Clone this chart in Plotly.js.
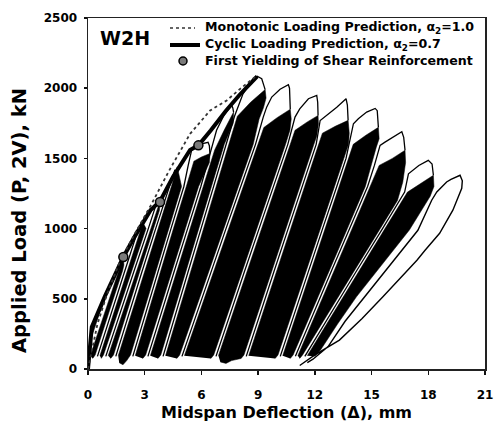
<!DOCTYPE html>
<html><head><meta charset="utf-8">
<script src="https://cdn.plot.ly/plotly-3.0.1.min.js"></script>
<style>html,body{margin:0;padding:0;background:#fff;}#chart{width:497px;height:424px;}</style>
</head><body><div id="chart"></div>
<script>
// ---- axis ticks ----
const xTicks = [0, 3, 6, 9, 12, 15, 18, 21];
const yTicks = [0, 500, 1000, 1500, 2000, 2500];

// ---- prediction curves ----
const monoX = [0, 0.5, 1.0, 1.7, 2.5, 3.3, 4.3, 5.4, 6.46, 7.34, 8.0, 8.5, 8.93];
const monoY = [0, 320, 530, 770, 970, 1160, 1415, 1675, 1841, 1913, 1990, 2045, 2090];
const cycX = [0, 0.2, 0.9, 1.6, 1.87, 2.5, 3.3, 3.81, 4.5, 5.4, 5.84, 6.5, 7.3, 8.0, 8.6, 8.95];
const cycY = [0, 300, 520, 730, 798, 950, 1130, 1195, 1370, 1560, 1593, 1700, 1840, 1950, 2040, 2085];

// ---- first yielding of shear reinforcement ----
const yieldX = [1.87, 3.81, 5.84];
const yieldY = [798, 1190, 1593];

// ---- dense repeated-cycle bands, one per loading stage ----
const bandX = [
  [0, 0.2, 0.6, 0.9, 0.85, 0.62, 0.12, 0.0],
  [0.12, 0.87, 1.62, 1.87, 1.9, 1.83, 1.10, 0.38, 0.25],
  [0.63, 1.35, 2.08, 2.75, 2.9, 3.0, 3.07, 2.32, 1.57, 0.82, 0.7],
  [1.07, 1.82, 2.57, 3.32, 3.7, 3.81, 3.78, 3.46, 2.75, 2.05, 1.35, 1.2],
  [1.6, 2.30, 3.0, 3.71, 4.41, 4.72, 4.95, 4.27, 3.60, 2.92, 2.25, 2.05, 1.85, 1.65],
  [2.5, 3.17, 3.85, 4.52, 5.2, 5.6, 6.0, 6.45, 6.42, 5.85, 5.15, 4.45, 3.75, 3.05, 2.9],
  [3.3, 4.0, 4.7, 5.4, 6.1, 6.7, 7.2, 7.7, 7.68, 7.21, 6.53, 5.86, 5.19, 4.52, 3.85, 3.7],
  [4.1, 4.77, 5.44, 6.11, 6.78, 7.45, 7.9, 8.6, 9.37, 9.42, 9.28, 9.05, 8.74, 7.96, 7.18, 6.41, 5.63, 4.85, 4.7],
  [5.1, 5.88, 6.66, 7.43, 8.21, 8.99, 9.3, 10.0, 10.7, 10.75, 10.68, 10.45, 9.69, 8.93, 8.17, 7.41, 6.65, 6.5],
  [6.9, 7.66, 8.42, 9.18, 9.94, 10.70, 10.95, 11.6, 12.17, 12.19, 12.1, 11.95, 11.21, 10.47, 9.73, 8.99, 8.25, 8.1, 7.6, 7.3, 7.0],
  [8.5, 9.24, 9.98, 10.72, 11.46, 12.20, 12.4, 13.1, 13.76, 13.82, 13.78, 13.04, 12.29, 11.54, 10.80, 10.05, 9.9],
  [10.3, 11.05, 11.79, 12.54, 13.29, 14.03, 14.7, 15.36, 15.4, 15.25, 15.0, 14.67, 13.72, 12.76, 11.81, 10.85, 10.7],
  [11.1, 12.06, 13.01, 13.97, 14.92, 15.4, 16.1, 16.77, 16.8, 16.65, 16.37, 15.46, 14.09, 12.72, 11.35, 11.2],
  [11.6, 12.97, 14.34, 15.71, 16.9, 17.6, 18.27, 18.3, 18.1, 17.0, 15.6, 14.2, 13.2, 12.3, 12.0]
];
const bandY = [
  [0, 300, 440, 520, 470, 400, 200, 40],
  [95, 400, 700, 798, 740, 700, 400, 100, 75],
  [95, 400, 700, 980, 1040, 1020, 1000, 700, 400, 100, 75],
  [95, 400, 700, 1000, 1150, 1195, 1130, 1000, 700, 400, 100, 75],
  [95, 400, 700, 1000, 1300, 1440, 1300, 1000, 700, 400, 100, 60, 30, 45],
  [95, 400, 700, 1000, 1300, 1480, 1510, 1535, 1470, 1300, 1000, 700, 400, 100, 75],
  [95, 400, 700, 1000, 1300, 1560, 1700, 1830, 1750, 1600, 1300, 1000, 700, 400, 100, 75],
  [95, 400, 700, 1000, 1300, 1600, 1800, 1900, 1990, 1930, 1860, 1780, 1600, 1300, 1000, 700, 400, 100, 75],
  [95, 400, 700, 1000, 1300, 1600, 1720, 1790, 1850, 1780, 1700, 1600, 1300, 1000, 700, 400, 100, 75],
  [95, 400, 700, 1000, 1300, 1600, 1700, 1760, 1806, 1745, 1660, 1600, 1300, 1000, 700, 400, 100, 75, 60, 40, 50],
  [95, 400, 700, 1000, 1300, 1600, 1680, 1730, 1771, 1680, 1600, 1300, 1000, 700, 400, 100, 75],
  [95, 400, 700, 1000, 1300, 1600, 1665, 1721, 1640, 1580, 1460, 1300, 1000, 700, 400, 100, 75],
  [95, 400, 700, 1000, 1300, 1450, 1500, 1558, 1470, 1330, 1200, 1000, 700, 400, 100, 75],
  [95, 400, 700, 1000, 1260, 1320, 1380, 1300, 1230, 990, 750, 514, 320, 135, 90]
];

// ---- first cycle of each stage (thin outline up to the stage peak) ----
const firstX = [
  [0.5, 1.22, 1.95, 2.62],
  [0.94, 1.69, 2.44, 3.19, 3.65],
  [1.47, 2.17, 2.87, 3.58, 4.28, 4.6],
  [2.37, 3.04, 3.72, 4.39, 5.07, 5.3, 5.5, 5.9, 6.35, 6.42, 6.45],
  [3.17, 3.87, 4.57, 5.27, 5.97, 6.45, 6.8, 7.2, 7.6, 7.66, 7.7],
  [3.97, 4.64, 5.31, 5.98, 6.65, 7.32, 7.75, 8.2, 8.6, 8.95, 9.19, 9.3, 9.37],
  [4.97, 5.75, 6.53, 7.3, 8.08, 8.86, 9.27, 9.45, 9.72, 10.16, 10.6, 10.66, 10.7],
  [6.77, 7.53, 8.29, 9.05, 9.81, 10.57, 10.95, 11.2, 11.66, 12.1, 12.15, 12.17],
  [8.37, 9.11, 9.85, 10.59, 11.33, 12.07, 12.28, 12.63, 13.16, 13.65, 13.72, 13.76],
  [10.17, 10.92, 11.66, 12.41, 13.16, 13.65, 14.04, 14.3, 14.74, 15.19, 15.3, 15.36],
  [10.97, 11.93, 12.88, 13.84, 14.79, 15.15, 15.45, 15.71, 16.15, 16.6, 16.7, 16.77],
  [11.47, 12.84, 14.21, 15.58, 16.75, 16.95, 17.5, 18.0, 18.2, 18.27]
];
const firstY = [
  [90, 400, 700, 980],
  [90, 400, 700, 1000, 1190],
  [90, 400, 700, 1000, 1300, 1420],
  [90, 400, 700, 1000, 1300, 1450, 1570, 1600, 1615, 1590, 1535],
  [90, 400, 700, 1000, 1300, 1530, 1700, 1810, 1878, 1860, 1830],
  [90, 400, 700, 1000, 1300, 1600, 1800, 1960, 2040, 2085, 2067, 2020, 1990],
  [90, 400, 700, 1000, 1300, 1600, 1794, 1865, 1937, 1993, 2025, 2000, 1850],
  [90, 400, 700, 1000, 1300, 1600, 1794, 1853, 1925, 1948, 1900, 1806],
  [90, 400, 700, 1000, 1300, 1600, 1770, 1806, 1865, 1925, 1880, 1771],
  [90, 400, 700, 1000, 1300, 1500, 1747, 1782, 1830, 1856, 1840, 1721],
  [90, 400, 700, 1000, 1300, 1450, 1593, 1616, 1652, 1690, 1650, 1558],
  [90, 400, 700, 1000, 1260, 1390, 1450, 1486, 1460, 1380]
];

// ---- last (largest) loop ----
const lastX = [11.2, 12.0, 13.3, 14.5, 15.6, 16.6, 17.4, 17.83, 18.6, 19.3, 19.77, 19.8, 19.68, 19.2, 18.97, 18.45, 18.18, 17.45, 16.2, 14.8, 13.6, 12.7, 11.9, 11.6];
const lastY = [25, 100, 206, 360, 514, 660, 775, 846, 967, 1131, 1287, 1340, 1380, 1350, 1332, 1261, 1202, 988, 780, 540, 340, 160, 70, 45];

const legendNames = [
  'Monotonic Loading Prediction, α<sub>2</sub>=1.0',
  'Cyclic Loading Prediction, α<sub>2</sub>=0.7',
  'First Yielding of Shear Reinforcement'
];

const traces = [];
bandX.forEach((bx, i) => {
  traces.push({x: bx, y: bandY[i], type: 'scatter', mode: 'lines', fill: 'toself',
    fillcolor: '#000', line: {color: '#000', width: 0.5}, showlegend: false, hoverinfo: 'skip'});
});
firstX.forEach((fx, i) => {
  traces.push({x: fx, y: firstY[i], type: 'scatter', mode: 'lines',
    line: {color: '#000', width: 1.3}, showlegend: false, hoverinfo: 'skip'});
});
traces.push({x: lastX, y: lastY, type: 'scatter', mode: 'lines',
  line: {color: '#000', width: 1.4}, showlegend: false});
traces.push({x: cycX, y: cycY, type: 'scatter', mode: 'lines', name: legendNames[1],
  line: {color: '#000', width: 4}, showlegend: false});
traces.push({x: monoX, y: monoY, type: 'scatter', mode: 'lines', name: legendNames[0],
  line: {color: '#333', width: 1.8, dash: 'dot'}, showlegend: false});
traces.push({x: yieldX, y: yieldY, type: 'scatter', mode: 'markers', name: legendNames[2],
  marker: {size: 9, color: '#7a7a7a', line: {color: '#000', width: 1.5}}, showlegend: false});

const F = 'DejaVu Sans, Liberation Sans, Arial, sans-serif';
const px2x = p => (p - 88) / 397;
const py2y = p => (369 - p) / 351;
const legFont = {family: F, size: 12.6, color: '#000', weight: 'bold'};

const layout = {
  width: 497, height: 424,
  margin: {l: 88, r: 12, t: 18, b: 55},
  paper_bgcolor: '#fff', plot_bgcolor: '#fff',
  showlegend: false,
  xaxis: {range: [0, 21], tickvals: xTicks, ticks: 'outside', ticklen: 4, tickwidth: 1.5,
    tickcolor: '#111', showline: true, mirror: true, linewidth: 1.5, linecolor: '#222',
    showgrid: false, zeroline: false, ticklabelstandoff: 10,
    tickfont: {family: F, size: 12, color: '#000', weight: 'bold'},
    title: {text: 'Midspan Deflection (Δ), mm', standoff: 6,
      font: {family: F, size: 16, color: '#000', weight: 'bold'}}},
  yaxis: {range: [0, 2500], tickvals: yTicks, ticks: 'outside', ticklen: 3, tickwidth: 1.5,
    tickcolor: '#111', showline: true, mirror: true, linewidth: 1.5, linecolor: '#222',
    showgrid: false, zeroline: false, ticklabelstandoff: 4,
    tickfont: {family: F, size: 12, color: '#000', weight: 'bold'}},
  shapes: [
    {type: 'line', xref: 'paper', yref: 'paper', x0: px2x(170), x1: px2x(195), y0: py2y(28), y1: py2y(28),
      line: {color: '#333', width: 1.5, dash: 'dot'}},
    {type: 'line', xref: 'paper', yref: 'paper', x0: px2x(170), x1: px2x(200), y0: py2y(45), y1: py2y(45),
      line: {color: '#000', width: 4}},
    {type: 'circle', xref: 'paper', yref: 'paper', x0: px2x(179), x1: px2x(187), y0: py2y(65), y1: py2y(57),
      fillcolor: '#7a7a7a', line: {color: '#000', width: 1.5}}
  ],
  annotations: [
    {text: 'Applied Load (P, 2V), kN', xref: 'paper', yref: 'paper', x: px2x(19), y: py2y(221),
      xanchor: 'center', yanchor: 'middle', textangle: -90, showarrow: false,
      font: {family: F, size: 19.5, color: '#000', weight: 'bold'}},
    {text: 'W2H', xref: 'paper', yref: 'paper', x: px2x(125), y: py2y(38.5),
      xanchor: 'center', yanchor: 'middle', showarrow: false,
      font: {family: F, size: 19, color: '#000', weight: 'bold'}},
    {text: legendNames[0], xref: 'paper', yref: 'paper',
      x: px2x(203), y: py2y(28), xanchor: 'left', yanchor: 'middle', showarrow: false, font: legFont},
    {text: legendNames[1], xref: 'paper', yref: 'paper',
      x: px2x(203), y: py2y(45), xanchor: 'left', yanchor: 'middle', showarrow: false, font: legFont},
    {text: legendNames[2], xref: 'paper', yref: 'paper',
      x: px2x(203), y: py2y(61), xanchor: 'left', yanchor: 'middle', showarrow: false, font: legFont}
  ]
};

Plotly.newPlot('chart', traces, layout, {staticPlot: true, displayModeBar: false});
</script></body></html>
